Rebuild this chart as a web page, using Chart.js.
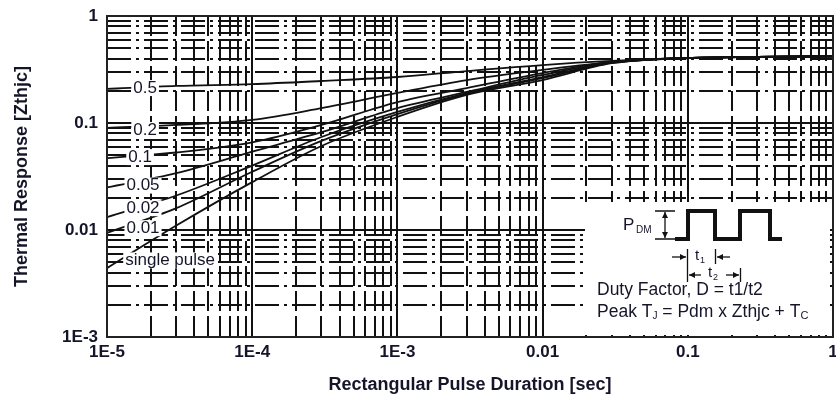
<!DOCTYPE html>
<html>
<head>
<meta charset="utf-8">
<script src="https://cdn.jsdelivr.net/npm/chart.js@4.4.1/dist/chart.umd.min.js"></script>
<style>
    html, body { margin: 0; padding: 0; background: #fff; }
</style>
</head>
<body>
<canvas id="zthChart" width="836" height="400"></canvas>
<script>
/* ===========================
   DATA
=========================== */

// Rectangular pulse duration [sec]
const pulseTimes = [1e-5, 3e-5, 1e-4, 3e-4, 1e-3, 3e-3, 1e-2, 3e-2, 0.1, 0.3, 1];

// Duty factor labels, top to bottom
const dutyLabels = ["0.5", "0.2", "0.1", "0.05", "0.02", "0.01", "single pulse"];

// Thermal response Zthjc per duty factor
const zthD050 = [0.208, 0.222, 0.231, 0.247, 0.269, 0.306, 0.348, 0.380, 0.405, 0.414, 0.420];
const zthD020 = [0.090, 0.096, 0.107, 0.138, 0.191, 0.252, 0.313, 0.370, 0.405, 0.414, 0.420];
const zthD010 = [0.047, 0.053, 0.066, 0.096, 0.157, 0.212, 0.293, 0.372, 0.405, 0.414, 0.420];
const zthD005 = [0.025, 0.034, 0.054, 0.082, 0.138, 0.195, 0.281, 0.368, 0.405, 0.414, 0.420];
const zthD002 = [0.0132, 0.021, 0.040, 0.074, 0.127, 0.190, 0.269, 0.366, 0.405, 0.414, 0.420];
const zthD001 = [0.0094, 0.016, 0.035, 0.068, 0.121, 0.187, 0.263, 0.365, 0.405, 0.414, 0.420];
const zthSingle = [0.0044, 0.011, 0.028, 0.061, 0.114, 0.183, 0.252, 0.362, 0.405, 0.414, 0.420];

// Axis ticks
const xTickValues = [1e-5, 1e-4, 1e-3, 1e-2, 0.1, 1];
const xTickLabels = ["1E-5", "1E-4", "1E-3", "0.01", "0.1", "1"];
const yTickValues = [1e-3, 1e-2, 0.1, 1];
const yTickLabels = ["1E-3", "0.01", "0.1", "1"];

/* ===========================
   HELPERS
=========================== */

const FONT = '"Liberation Sans", Arial, sans-serif';
const INK = '#15152a';

const allSeries = [zthD050, zthD020, zthD010, zthD005, zthD002, zthD001, zthSingle];

// where each curve label sits (data coords)
const labelSpots = [
    [1.83e-5, 0.212], [1.83e-5, 0.086], [1.69e-5, 0.048], [1.77e-5, 0.026],
    [1.77e-5, 0.016], [1.77e-5, 0.0104], [2.72e-5, 0.0052]
];

function arrow(ctx, x1, y1, x2, y2) {
    const ang = Math.atan2(y2 - y1, x2 - x1);
    ctx.beginPath();
    ctx.moveTo(x1, y1);
    ctx.lineTo(x2, y2);
    ctx.stroke();
    ctx.beginPath();
    ctx.moveTo(x2, y2);
    ctx.lineTo(x2 - 6 * Math.cos(ang) + 3 * Math.sin(ang), y2 - 6 * Math.sin(ang) - 3 * Math.cos(ang));
    ctx.lineTo(x2 - 6 * Math.cos(ang) - 3 * Math.sin(ang), y2 - 6 * Math.sin(ang) + 3 * Math.cos(ang));
    ctx.closePath();
    ctx.fill();
}

// dense log grid like the datasheet
const logGrid = {
    id: 'logGrid',
    beforeDatasetsDraw(chart) {
        const { ctx, chartArea: a, scales: { x, y } } = chart;
        ctx.save();
        ctx.beginPath();
        ctx.rect(a.left, a.top, a.right - a.left, a.bottom - a.top);
        ctx.clip();
        ctx.strokeStyle = '#111';
        ctx.lineWidth = 2;

        for (let e = -3; e < 0; e++) {
            for (let m = 1; m <= 9; m++) {
                const py = Math.round(y.getPixelForValue(m * Math.pow(10, e)));
                ctx.setLineDash(m === 1 ? [] : [24, 5, 3, 5]);
                ctx.beginPath();
                ctx.moveTo(a.left, py);
                ctx.lineTo(a.right, py);
                ctx.stroke();
            }
        }
        for (let e = -5; e < 0; e++) {
            for (let m = 1; m <= 9; m++) {
                const px = Math.round(x.getPixelForValue(m * Math.pow(10, e)));
                ctx.setLineDash(m === 1 ? [] : [20, 5]);
                ctx.beginPath();
                ctx.moveTo(px, a.top);
                ctx.lineTo(px, a.bottom);
                ctx.stroke();
            }
        }
        ctx.restore();
    },
    afterDatasetsDraw(chart) {
        const { ctx, chartArea: a, scales: { x, y } } = chart;
        ctx.save();

        // curve labels with white backing
        ctx.font = '17px ' + FONT;
        ctx.textAlign = 'center';
        ctx.textBaseline = 'middle';
        dutyLabels.forEach((txt, i) => {
            const px = x.getPixelForValue(labelSpots[i][0]);
            const py = y.getPixelForValue(labelSpots[i][1]);
            const w = ctx.measureText(txt).width;
            ctx.fillStyle = '#fff';
            ctx.fillRect(px - w / 2 - 2, py - 8, w + 4, 16);
            ctx.fillStyle = INK;
            ctx.fillText(txt, px, py);
        });

        // inset: pulse diagram
        const ox = a.right - 248;
        const oy = a.bottom - 135;
        ctx.fillStyle = '#fff';
        ctx.fillRect(ox, oy, 245, 133);

        ctx.fillStyle = INK;
        ctx.strokeStyle = '#111';
        ctx.textAlign = 'left';
        ctx.font = '17px ' + FONT;
        ctx.fillText('P', ox + 38, oy + 23);
        ctx.font = '10px ' + FONT;
        ctx.fillText('DM', ox + 51, oy + 28);

        ctx.fillStyle = '#111';
        ctx.lineWidth = 1.3;
        arrow(ctx, ox + 80, oy + 23, ox + 80, oy + 10);
        arrow(ctx, ox + 80, oy + 23, ox + 80, oy + 36);
        ctx.beginPath();
        ctx.moveTo(ox + 70, oy + 9); ctx.lineTo(ox + 90, oy + 9);
        ctx.moveTo(ox + 70, oy + 37); ctx.lineTo(ox + 90, oy + 37);
        ctx.stroke();

        ctx.lineWidth = 4;
        ctx.lineJoin = 'miter';
        ctx.beginPath();
        ctx.moveTo(ox + 90, oy + 37);
        ctx.lineTo(ox + 103, oy + 37);
        ctx.lineTo(ox + 103, oy + 9);
        ctx.lineTo(ox + 130, oy + 9);
        ctx.lineTo(ox + 130, oy + 37);
        ctx.lineTo(ox + 155, oy + 37);
        ctx.lineTo(ox + 155, oy + 9);
        ctx.lineTo(ox + 185, oy + 9);
        ctx.lineTo(ox + 185, oy + 37);
        ctx.lineTo(ox + 197, oy + 37);
        ctx.stroke();

        ctx.lineWidth = 1.3;
        ctx.beginPath();
        ctx.moveTo(ox + 102.5, oy + 47); ctx.lineTo(ox + 102.5, oy + 80);
        ctx.moveTo(ox + 130.5, oy + 47); ctx.lineTo(ox + 130.5, oy + 62);
        ctx.moveTo(ox + 155.5, oy + 66); ctx.lineTo(ox + 155.5, oy + 80);
        ctx.stroke();
        arrow(ctx, ox + 87, oy + 55, ox + 101, oy + 55);
        arrow(ctx, ox + 145, oy + 55, ox + 132, oy + 55);
        arrow(ctx, ox + 116, oy + 73, ox + 104, oy + 73);
        arrow(ctx, ox + 141, oy + 73, ox + 154, oy + 73);

        ctx.fillStyle = INK;
        ctx.font = '15px ' + FONT;
        ctx.fillText('t', ox + 110, oy + 54);
        ctx.fillText('t', ox + 123, oy + 71);
        ctx.font = '9px ' + FONT;
        ctx.fillText('1', ox + 115, oy + 59);
        ctx.fillText('2', ox + 128, oy + 76);

        ctx.font = '17.5px ' + FONT;
        ctx.fillText('Duty Factor, D = t1/t2', ox + 12, oy + 88);
        let cx = ox + 12;
        const line2 = [['Peak T', 17.5, 0], ['J', 10, 4], [' = Pdm x Zthjc + T', 17.5, 0], ['C', 11, 4]];
        line2.forEach(([t, s, dy]) => {
            ctx.font = s + 'px ' + FONT;
            ctx.fillText(t, cx, oy + 110 + dy);
            cx += ctx.measureText(t).width;
        });

        // frame
        ctx.strokeStyle = '#222';
        ctx.lineWidth = 2;
        ctx.strokeRect(a.left, a.top, a.right - a.left, a.bottom - a.top);
        ctx.restore();
    }
};

/* ===========================
   CHART.JS CONFIGURATION
=========================== */

const ctx = document.getElementById('zthChart');

new Chart(ctx, {
    type: 'line',
    data: {
        datasets: allSeries.map((vals, i) => ({
            label: dutyLabels[i],
            data: pulseTimes.map((t, j) => ({ x: t, y: vals[j] })),
            borderColor: '#111',
            borderWidth: 1.8,
            pointRadius: 0,
            fill: false,
            cubicInterpolationMode: 'monotone'
        }))
    },
    options: {
        responsive: false,
        animation: false,
        layout: { padding: { top: 16, right: 3, left: 0, bottom: 0 } },
        scales: {
            x: {
                type: 'logarithmic',
                min: 1e-5,
                max: 1,
                afterBuildTicks: s => { s.ticks = xTickValues.map(v => ({ value: v })); },
                afterFit: s => { s.height = 63; s.paddingLeft = 0; s.paddingRight = 0; },
                grid: { display: false, drawTicks: false },
                border: { display: false },
                ticks: {
                    autoSkip: false,
                    maxRotation: 0,
                    padding: 5,
                    color: INK,
                    font: { family: FONT, size: 17, weight: 'bold' },
                    callback: (v, i) => xTickLabels[i]
                },
                title: {
                    display: true,
                    text: 'Rectangular Pulse Duration [sec]',
                    color: INK,
                    padding: { top: 0, bottom: 4 },
                    font: { family: FONT, size: 18, weight: 'bold' }
                }
            },
            y: {
                type: 'logarithmic',
                min: 1e-3,
                max: 1,
                afterBuildTicks: s => { s.ticks = yTickValues.map(v => ({ value: v })); },
                afterFit: s => { s.width = 107; s.paddingTop = 0; s.paddingBottom = 0; },
                grid: { display: false, drawTicks: false },
                border: { display: false },
                ticks: {
                    autoSkip: false,
                    padding: 9,
                    color: INK,
                    font: { family: FONT, size: 17, weight: 'bold' },
                    callback: (v, i) => yTickLabels[i]
                },
                title: {
                    display: true,
                    text: 'Thermal Response [Zthjc]',
                    color: INK,
                    padding: { top: 11, bottom: 0 },
                    font: { family: FONT, size: 18, weight: 'bold' }
                }
            }
        },
        plugins: {
            legend: { display: false },
            tooltip: { enabled: false }
        }
    },
    plugins: [logGrid]
});
</script>
</body>
</html>
